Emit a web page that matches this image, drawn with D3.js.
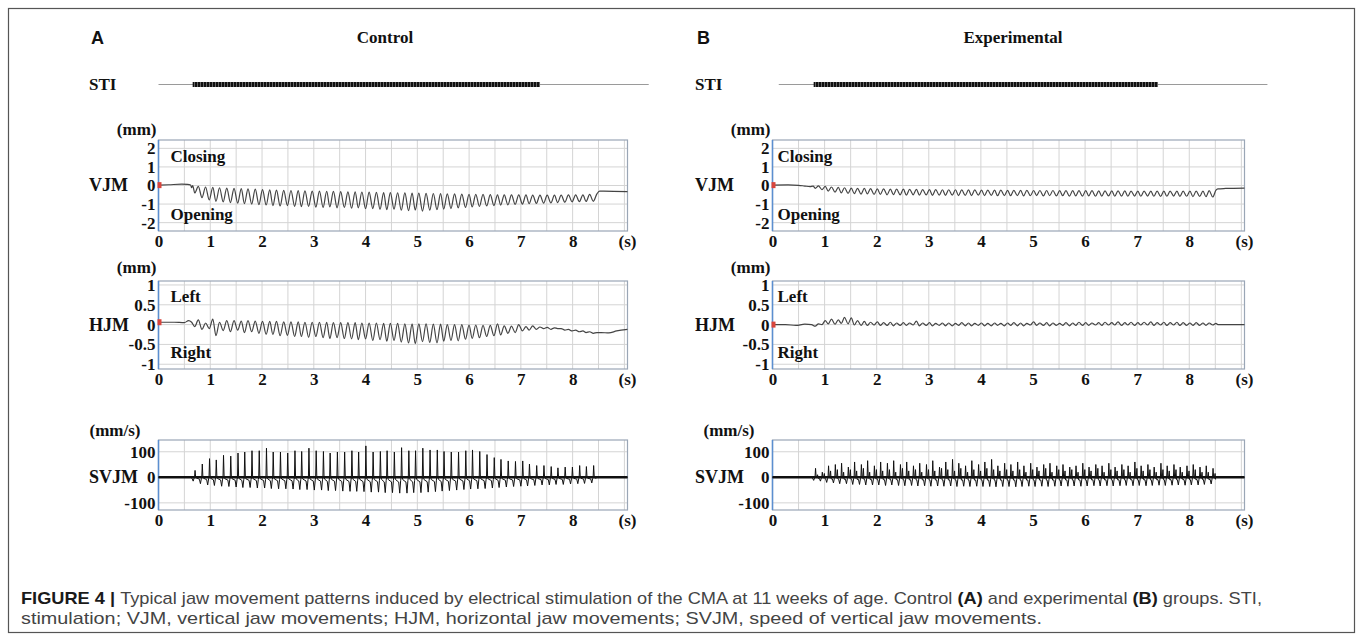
<!DOCTYPE html>
<html>
<head>
<meta charset="utf-8">
<script src="https://cdn.jsdelivr.net/npm/d3@7"></script>
<style>
  body { margin: 0; background: #fff; }
</style>
</head>
<body>
<svg width="1358" height="637"></svg>
<script>
// ---- data ----
const timeTicks = [0, 1, 2, 3, 4, 5, 6, 7, 8];
const timeGrid = [0.5, 1, 1.5, 2, 2.5, 3, 3.5, 4, 4.5, 5, 5.5, 6, 6.5, 7, 7.5, 8, 8.5, 9];
const vjmTicks = [2, 1, 0, -1, -2];
const hjmTicks = [1, 0.5, 0, -0.5, -1];
const svjmTicks = [100, 0, -100];

// stimulation train (s)
const ctrlStiLine = [0, 9.47];
const ctrlStiTrain = [0.66, 7.37];
const expStiLine = [0.12, 9.5];
const expStiTrain = [0.79, 7.4];

// control: jaw cycle times (time of max opening, s)
const ctrlTimes = [0.70,0.84,0.98,1.11,1.25,1.39,1.53,1.66,1.80,1.94,
  2.08,2.21,2.35,2.49,2.63,2.76,2.90,3.04,3.18,3.31,
  3.45,3.59,3.73,3.86,4.00,4.14,4.28,4.41,4.55,4.69,
  4.83,4.96,5.10,5.24,5.38,5.51,5.65,5.79,5.93,6.06,
  6.20,6.34,6.48,6.61,6.75,6.89,7.03,7.16,7.30,7.44,
  7.58,7.71,7.85,7.99,8.13,8.26,8.40];
const ctrlVjmTrough = [-0.4,-0.65,-0.78,-0.85,-0.88,-0.92,-0.95,-0.98,-1.0,-1.03,
  -1.05,-1.08,-1.1,-1.08,-1.12,-1.14,-1.12,-1.16,-1.18,-1.15,
  -1.2,-1.18,-1.22,-1.2,-1.25,-1.24,-1.28,-1.3,-1.27,-1.33,
  -1.35,-1.32,-1.38,-1.33,-1.3,-1.27,-1.24,-1.2,-1.18,-1.15,
  -1.13,-1.1,-1.08,-1.06,-1.04,-1.02,-1.0,-0.98,-0.96,-0.95,
  -0.94,-0.92,-0.9,-0.88,-0.87,-0.86,-0.85];
const ctrlVjmPeak = [-0.05,-0.08,-0.1,-0.12,-0.14,-0.15,-0.17,-0.18,-0.2,-0.22,
  -0.24,-0.25,-0.26,-0.27,-0.28,-0.29,-0.3,-0.3,-0.31,-0.32,
  -0.33,-0.34,-0.34,-0.35,-0.36,-0.37,-0.38,-0.38,-0.39,-0.4,
  -0.41,-0.41,-0.42,-0.43,-0.44,-0.45,-0.45,-0.46,-0.47,-0.48,
  -0.48,-0.49,-0.5,-0.5,-0.5,-0.51,-0.51,-0.52,-0.52,-0.52,
  -0.52,-0.52,-0.51,-0.5,-0.5,-0.48,-0.45];
const ctrlVjmPre = [[0,0.02],[0.2,0.04],[0.45,0.07],[0.56,0.06],[0.62,0.03],[0.64,-0.12],[0.66,0.0]];
const ctrlVjmPost = [[8.52,-0.3],[8.6,-0.3],[9.06,-0.33]];

const ctrlHjmTrough = [-0.05,-0.12,-0.1,-0.28,-0.15,-0.18,-0.14,-0.2,-0.18,-0.22,
  -0.24,-0.25,-0.28,-0.27,-0.3,-0.3,-0.32,-0.3,-0.33,-0.35,
  -0.33,-0.35,-0.36,-0.38,-0.36,-0.4,-0.38,-0.42,-0.4,-0.44,
  -0.46,-0.48,-0.43,-0.45,-0.46,-0.42,-0.4,-0.41,-0.37,-0.35,
  -0.33,-0.3,-0.28,-0.26,-0.22,-0.2,-0.16,-0.14,-0.12,-0.1,
  -0.12,-0.1,-0.14,-0.16,-0.18,-0.2,-0.22];
const ctrlHjmPeak = [0.12,0.04,0.14,0.06,0.1,0.1,0.09,0.1,0.09,0.08,
  0.08,0.08,0.07,0.07,0.07,0.06,0.06,0.06,0.06,0.05,
  0.05,0.05,0.05,0.04,0.04,0.04,0.03,0.03,0.03,0.02,
  0.02,0.02,0.02,0.01,0.01,0.0,0.0,0.0,-0.01,-0.01,
  -0.02,-0.02,0.02,-0.03,-0.04,0.0,-0.05,-0.03,-0.06,-0.07,
  -0.08,-0.1,-0.12,-0.14,-0.16,-0.18,-0.2];
const ctrlHjmPre = [[0,0.06],[0.3,0.06],[0.5,0.05],[0.58,0.1],[0.64,0.06]];
const ctrlHjmPost = [[8.55,-0.2],[8.7,-0.21],[8.85,-0.16],[9.06,-0.12]];

const ctrlSpeedPeak = [27,52,73,68,86,83,95,99,104,104,
  114,99,99,95,104,101,114,104,101,95,
  99,99,104,99,123,99,101,104,99,116,
  104,104,114,107,107,101,99,99,104,107,
  101,89,77,70,64,62,64,52,46,46,
  42,37,40,40,46,42,46];
const ctrlSpeedTrough = [-15,-25,-30,-32,-35,-36,-38,-40,-40,-42,
  -42,-44,-45,-45,-46,-48,-48,-50,-50,-52,
  -52,-54,-55,-55,-56,-58,-58,-60,-60,-62,
  -62,-60,-60,-58,-56,-54,-52,-50,-48,-46,
  -45,-44,-42,-40,-38,-36,-35,-34,-32,-30,
  -30,-28,-28,-26,-25,-24,-22];
const ctrlSpeedPre = [[0,0],[0.62,0]];
const ctrlSpeedPost = [[8.5,0],[9.06,0]];

// experimental
const expTimes = [0.82,0.95,1.07,1.20,1.32,1.45,1.57,1.70,1.82,1.95,
  2.07,2.20,2.32,2.45,2.57,2.70,2.82,2.95,3.07,3.20,
  3.32,3.45,3.57,3.70,3.82,3.95,4.07,4.20,4.32,4.45,
  4.57,4.70,4.82,4.95,5.07,5.20,5.32,5.45,5.57,5.70,
  5.82,5.95,6.07,6.20,6.32,6.45,6.57,6.70,6.82,6.95,
  7.07,7.20,7.32,7.45,7.57,7.70,7.82,7.95,8.07,8.20,
  8.32,8.45];
const expVjmTrough = [-0.15,-0.22,-0.3,-0.36,-0.4,-0.42,-0.44,-0.46,-0.45,-0.48,
  -0.48,-0.5,-0.49,-0.5,-0.52,-0.5,-0.52,-0.51,-0.53,-0.52,
  -0.53,-0.52,-0.54,-0.53,-0.54,-0.52,-0.54,-0.53,-0.55,-0.54,
  -0.55,-0.54,-0.56,-0.55,-0.54,-0.56,-0.55,-0.56,-0.55,-0.57,
  -0.56,-0.57,-0.56,-0.58,-0.57,-0.56,-0.58,-0.57,-0.58,-0.57,
  -0.58,-0.57,-0.58,-0.59,-0.58,-0.57,-0.59,-0.58,-0.6,-0.59,
  -0.6,-0.62];
const expVjmPeak = [-0.02,-0.05,-0.08,-0.1,-0.12,-0.14,-0.15,-0.16,-0.17,-0.18,
  -0.18,-0.19,-0.2,-0.2,-0.21,-0.21,-0.22,-0.22,-0.22,-0.23,
  -0.23,-0.23,-0.24,-0.24,-0.24,-0.25,-0.25,-0.25,-0.25,-0.26,
  -0.26,-0.26,-0.26,-0.27,-0.27,-0.27,-0.27,-0.28,-0.28,-0.28,
  -0.28,-0.28,-0.28,-0.29,-0.29,-0.29,-0.29,-0.29,-0.3,-0.3,
  -0.3,-0.3,-0.3,-0.3,-0.3,-0.3,-0.3,-0.3,-0.3,-0.3,
  -0.28,-0.25];
const expVjmPre = [[0,0.02],[0.3,0.03],[0.5,0.01],[0.62,-0.03],[0.72,-0.06],[0.78,-0.03]];
const expVjmPost = [[8.55,-0.18],[8.7,-0.16],[9.06,-0.14]];

const expHjmPeak = [0.02,0.1,0.14,0.12,0.18,0.17,0.1,0.08,0.06,0.07,
  0.05,0.06,0.04,0.05,0.04,0.09,0.04,0.05,0.03,0.04,
  0.04,0.03,0.05,0.04,0.03,0.04,0.03,0.04,0.03,0.04,
  0.05,0.04,0.03,0.07,0.04,0.05,0.04,0.03,0.05,0.04,
  0.06,0.05,0.04,0.05,0.06,0.05,0.07,0.05,0.06,0.05,
  0.06,0.07,0.05,0.06,0.05,0.06,0.05,0.04,0.05,0.04,
  0.04,0.03];
const expHjmTrough = [-0.04,0.0,0.02,0.01,0.03,0.02,-0.01,-0.02,-0.02,-0.01,
  -0.02,-0.02,-0.03,-0.02,-0.02,-0.01,-0.03,-0.02,-0.03,-0.02,
  -0.03,-0.03,-0.02,-0.03,-0.03,-0.02,-0.03,-0.03,-0.02,-0.03,
  -0.02,-0.03,-0.03,-0.01,-0.02,-0.02,-0.03,-0.02,-0.02,-0.03,
  -0.02,-0.02,-0.02,-0.01,-0.02,-0.01,-0.01,-0.02,-0.01,-0.02,
  -0.01,-0.01,-0.02,-0.01,-0.02,-0.01,-0.02,-0.02,-0.02,-0.02,
  -0.02,-0.01];
const expHjmPre = [[0,0.0],[0.25,0.0],[0.45,-0.02],[0.62,0.01],[0.75,0.0]];
const expHjmPost = [[8.55,0.0],[8.8,0.0],[9.06,0.0]];

const expSpeedPeak = [35,20,45,50,55,40,60,50,65,45,
  60,55,65,50,60,45,55,50,65,40,
  60,70,55,45,65,50,60,70,45,55,
  50,60,45,55,40,50,55,45,50,40,
  45,55,40,50,45,55,40,50,45,60,
  45,50,40,55,45,50,40,45,50,40,
  45,35];
// smaller second speed burst seen in each experimental cycle
const expSpeedMinor = [10,15,25,30,20,30,25,35,20,30,
  25,30,20,35,25,30,20,30,25,35,
  30,25,35,20,30,25,35,30,25,30,
  25,30,20,30,25,35,20,30,25,30,
  20,30,25,35,20,30,25,30,20,35,
  25,30,20,30,25,30,20,25,30,20,
  20,15];
const expSpeedTrough = [-12,-15,-20,-22,-25,-25,-28,-28,-30,-30,
  -30,-32,-30,-32,-33,-32,-34,-33,-35,-34,
  -35,-34,-36,-35,-36,-35,-36,-36,-37,-36,
  -36,-37,-36,-35,-36,-35,-36,-35,-34,-35,
  -34,-35,-34,-33,-34,-33,-34,-33,-32,-33,
  -32,-33,-32,-31,-32,-31,-30,-31,-30,-30,
  -28,-26];
const expSpeedPre = [[0,0],[0.74,0]];
const expSpeedPost = [[8.5,0],[9.06,0]];

const speedBaseline = [[0,0],[9.06,0]];

// ---- build the traces ----
function movementPoints(pre, times, troughs, peaks, post, halfCycle) {
  const pts = pre.slice();
  times.forEach((t, i) => {
    pts.push([t, troughs[i]]);
    pts.push([t + halfCycle, peaks[i]]);
  });
  return pts.concat(post);
}

function speedPoints(pre, times, peaks, troughs, post, minor) {
  const pts = pre.slice();
  times.forEach((t, i) => {
    const n = troughs[i], p = peaks[i];
    pts.push([t - 0.05, n * 0.3], [t - 0.03, n], [t - 0.012, n * 0.2], [t - 0.004, 0],
             [t + 0.006, p], [t + 0.018, 0], [t + 0.03, n * 0.15]);
    if (minor) pts.push([t + 0.045, minor[i]], [t + 0.055, n * 0.3]);
  });
  return pts.concat(post);
}

const groups = [
  {
    letter: "A", title: "Control", letterX: 91, titleX: 385, labelX: 89,
    x0: 158.5, x1: 627.5, innerDx: 12,
    sti: { line: ctrlStiLine, train: ctrlStiTrain },
    vjm: movementPoints(ctrlVjmPre, ctrlTimes, ctrlVjmTrough, ctrlVjmPeak, ctrlVjmPost, 0.069),
    hjm: movementPoints(ctrlHjmPre, ctrlTimes, ctrlHjmTrough, ctrlHjmPeak, ctrlHjmPost, 0.069),
    svjm: speedPoints(ctrlSpeedPre, ctrlTimes, ctrlSpeedPeak, ctrlSpeedTrough, ctrlSpeedPost)
  },
  {
    letter: "B", title: "Experimental", letterX: 697, titleX: 1013, labelX: 695,
    x0: 772.5, x1: 1244.5, innerDx: 5,
    sti: { line: expStiLine, train: expStiTrain },
    vjm: movementPoints(expVjmPre, expTimes, expVjmTrough, expVjmPeak, expVjmPost, 0.0625),
    hjm: movementPoints(expHjmPre, expTimes, expHjmTrough, expHjmPeak, expHjmPost, 0.0625),
    svjm: speedPoints(expSpeedPre, expTimes, expSpeedPeak, expSpeedTrough, expSpeedPost, expSpeedMinor)
  }
];

const rows = [
  { key: "vjm", name: "VJM", unit: "(mm)", top: 140, bottom: 231, domain: [-2.45, 2.45],
    ticks: vjmTicks, upper: "Closing", lower: "Opening", upperY: 162, lowerY: 220, unitDx: 2, unitDy: 5 },
  { key: "hjm", name: "HJM", unit: "(mm)", top: 281, bottom: 369, domain: [-1.12, 1.1],
    ticks: hjmTicks, upper: "Left", lower: "Right", upperY: 302, lowerY: 358, unitDx: 2, unitDy: 8 },
  { key: "svjm", name: "SVJM", unit: "(mm/s)", top: 440, bottom: 510, domain: [-128, 146],
    ticks: svjmTicks, unitDx: 18, unitDy: 4 }
];

const svg = d3.select("svg");
const serif = "'Liberation Serif','Times New Roman',serif";

// figure frame
svg.append("rect")
  .attr("x", 8.5).attr("y", 8.5).attr("width", 1346).attr("height", 624)
  .attr("fill", "none").attr("stroke", "#555").attr("stroke-width", 1.2);

// stripe pattern for the stimulus train
const defs = svg.append("defs");
const pat = defs.append("pattern").attr("id", "pulses")
  .attr("patternUnits", "userSpaceOnUse").attr("width", 3).attr("height", 10);
pat.append("rect").attr("width", 3).attr("height", 10).attr("fill", "#666");
pat.append("rect").attr("width", 2).attr("height", 10).attr("fill", "#111");

groups.forEach(g => {
  const chart = svg.append("g").attr("font-family", serif).attr("font-weight", "bold").attr("fill", "#111");
  const x = d3.scaleLinear().domain([0, 9.06]).range([g.x0, g.x1]);

  // panel letter and title
  chart.append("text").attr("x", g.letterX).attr("y", 44)
    .attr("font-family", "'Liberation Sans',Arial,sans-serif").attr("font-size", 18)
    .text(g.letter);
  chart.append("text").attr("x", g.titleX).attr("y", 43).attr("text-anchor", "middle")
    .attr("font-size", 17).text(g.title);

  // STI row
  chart.append("text").attr("x", g.labelX).attr("y", 90).attr("font-size", 17).text("STI");
  chart.append("line")
    .attr("x1", x(g.sti.line[0])).attr("x2", x(g.sti.line[1]))
    .attr("y1", 84.5).attr("y2", 84.5).attr("stroke", "#9a9a9a").attr("stroke-width", 1);
  chart.append("rect")
    .attr("x", x(g.sti.train[0])).attr("width", x(g.sti.train[1]) - x(g.sti.train[0]))
    .attr("y", 82).attr("height", 5).attr("fill", "url(#pulses)");

  rows.forEach(r => {
    const y = d3.scaleLinear().domain(r.domain).range([r.bottom, r.top]);
    const p = chart.append("g");

    // grid
    p.selectAll(".vg").data(timeGrid).join("line")
      .attr("x1", d => x(d)).attr("x2", d => x(d))
      .attr("y1", r.top).attr("y2", r.bottom)
      .attr("stroke", "#d4d4d4").attr("stroke-width", 1);
    p.selectAll(".hg").data(r.ticks).join("line")
      .attr("x1", g.x0).attr("x2", g.x1)
      .attr("y1", d => y(d)).attr("y2", d => y(d))
      .attr("stroke", "#d4d4d4").attr("stroke-width", 1);

    // box
    p.append("rect").attr("x", g.x0).attr("y", r.top)
      .attr("width", g.x1 - g.x0).attr("height", r.bottom - r.top)
      .attr("fill", "none").attr("stroke", "#9aa6b6").attr("stroke-width", 1.2);
    p.append("line").attr("x1", g.x0).attr("x2", g.x0).attr("y1", r.top).attr("y2", r.bottom)
      .attr("stroke", "#5b8fd0").attr("stroke-width", 1.5);

    // axes
    const yAxis = p.append("g").attr("transform", `translate(${g.x0},0)`)
      .call(d3.axisLeft(y).tickValues(r.ticks).tickSize(0).tickPadding(3).tickFormat(d => String(d)));
    const xAxis = p.append("g").attr("transform", `translate(0,${r.bottom})`)
      .call(d3.axisBottom(x).tickValues(timeTicks).tickSize(0).tickPadding(4).tickFormat(d => String(d)));
    [yAxis, xAxis].forEach(a => {
      a.select(".domain").remove();
      a.selectAll("text").attr("font-family", serif).attr("font-weight", "bold")
        .attr("font-size", 17).attr("fill", "#111");
    });
    p.append("text").attr("x", g.x1).attr("y", r.bottom + 16).attr("text-anchor", "middle")
      .attr("font-size", 17).text("(s)");

    // labels
    p.append("text").attr("x", g.x0 - r.unitDx).attr("y", r.top - r.unitDy).attr("text-anchor", "end")
      .attr("font-size", 17).text(r.unit);
    p.append("text").attr("x", g.labelX).attr("y", y(0)).attr("dy", "0.33em")
      .attr("font-size", 18).text(r.name);
    if (r.upper) {
      p.append("text").attr("x", g.x0 + g.innerDx).attr("y", r.upperY).attr("font-size", 17).text(r.upper);
      p.append("text").attr("x", g.x0 + g.innerDx).attr("y", r.lowerY).attr("font-size", 17).text(r.lower);
    }

    // traces
    const line = d3.line().x(d => x(d[0])).y(d => y(d[1]));
    if (r.key === "svjm") {
      p.append("path").datum(speedBaseline).attr("d", line)
        .attr("fill", "none").attr("stroke", "#111").attr("stroke-width", 2.6);
      p.append("path").datum(g.svjm).attr("d", line)
        .attr("fill", "none").attr("stroke", "#111").attr("stroke-width", 1)
        .attr("stroke-linejoin", "round");
    } else {
      p.append("path").datum(g[r.key]).attr("d", line.curve(d3.curveMonotoneX))
        .attr("fill", "none").attr("stroke", "#444").attr("stroke-width", 1.2);
      p.append("rect").attr("x", g.x0 - 1).attr("y", y(g[r.key][0][1]) - 3)
        .attr("width", 4).attr("height", 6).attr("fill", "#d9453d");
    }
  });
});

// caption
const cap = svg.append("g")
  .attr("font-family", "'Liberation Sans Narrow','Liberation Sans',Arial,sans-serif")
  .attr("fill", "#444");
const captionLines = [
  [["FIGURE 4 | ", true], ["Typical jaw movement patterns induced by electrical stimulation of the CMA at 11 weeks of age. Control ", false],
   ["(A)", true], [" and experimental ", false], ["(B)", true], [" groups. STI,", false]],
  [["stimulation; VJM, vertical jaw movements; HJM, horizontal jaw movements; SVJM, speed of vertical jaw movements.", false]]
];
const capY = [604, 624];
const capWidth = [1241, 1021];
captionLines.forEach((segs, i) => {
  const t = cap.append("text").attr("x", 21).attr("y", capY[i]).attr("font-size", 17)
    .attr("textLength", capWidth[i]).attr("lengthAdjust", "spacingAndGlyphs");
  segs.forEach(s => {
    t.append("tspan").text(s[0])
      .attr("font-weight", s[1] ? "bold" : "normal")
      .attr("fill", s[1] ? "#1a1a1a" : "#444");
  });
});
</script>
</body>
</html>
